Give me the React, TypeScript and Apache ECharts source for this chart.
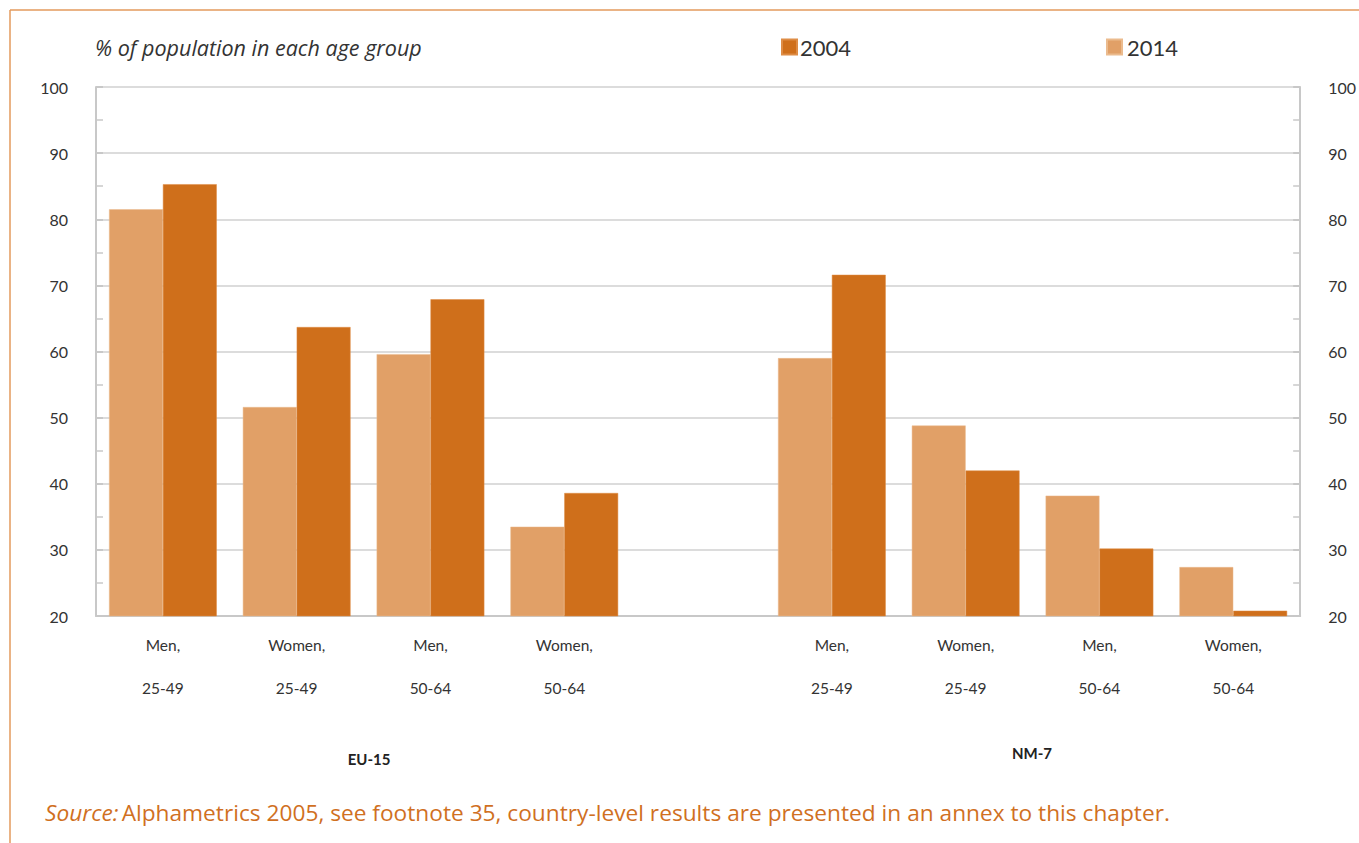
import React, { useEffect, useRef } from "react";
import * as echarts from "echarts";

const categories = [
  "Men,\n25-49",
  "Women,\n25-49",
  "Men,\n50-64",
  "Women,\n50-64",
  "",
  "Men,\n25-49",
  "Women,\n25-49",
  "Men,\n50-64",
  "Women,\n50-64",
];
const values2014: (number | null)[] = [81.5, 51.6, 59.6, 33.5, null, 59.0, 48.8, 38.2, 27.4];
const values2004: (number | null)[] = [85.3, 63.7, 67.9, 38.6, null, 71.6, 42.0, 30.2, 20.8];
const groupLabels = ["EU-15", "NM-7"];
const yTicks = { min: 20, max: 100, interval: 10 };

const DARK = "#CF6F1B";
const LIGHT = "#E1A067";
const FONT = "Lato, 'Open Sans', sans-serif";
const WIDE = "'Open Sans', Lato, sans-serif";

export default function App() {
  const ref = useRef<HTMLDivElement>(null);
  useEffect(() => {
    if (!ref.current) return;
    const chart = echarts.init(ref.current, null, { renderer: "svg" });
    const yAxisBase = {
      type: "value" as const,
      min: yTicks.min,
      max: yTicks.max,
      interval: yTicks.interval,
      axisLine: { show: true, lineStyle: { color: "#c8c8c8", width: 2 } },
      axisTick: { show: true, inside: true, length: 7, lineStyle: { color: "#c8c8c8", width: 2 } },
      minorTick: { show: true, splitNumber: 2, length: 7, lineStyle: { color: "#c8c8c8", width: 1.5 } },
      axisLabel: { color: "#333", fontSize: 16, fontFamily: FONT, margin: 28 },
    };
    chart.setOption({
      animation: false,
      backgroundColor: "#fff",
      textStyle: { fontFamily: FONT },
      grid: { left: 96, right: 55, top: 87, bottom: 227, containLabel: false },
      legend: [
        {
          data: ["2004"],
          left: 776,
          top: 31,
          icon: "rect",
          itemWidth: 15,
          itemHeight: 15,
          itemGap: 4,
          textStyle: { fontSize: 22, color: "#333", fontFamily: FONT, padding: [0, 0, 0, -2] },
        },
        {
          data: ["2014"],
          left: 1101,
          top: 31,
          icon: "rect",
          itemWidth: 15,
          itemHeight: 15,
          textStyle: { fontSize: 22, color: "#333", fontFamily: FONT },
        },
      ],
      xAxis: {
        type: "category",
        data: categories,
        axisLine: { show: true, lineStyle: { color: "#c8c8c8", width: 2 } },
        axisTick: { show: false },
        axisLabel: {
          interval: 0,
          color: "#333",
          fontSize: 15.5,
          lineHeight: 43,
          margin: 7,
          fontFamily: FONT,
        },
      },
      yAxis: [
        {
          ...yAxisBase,
          position: "left",
          splitLine: { show: true, lineStyle: { color: "#d0d0d0", width: 1.5 } },
        },
        {
          ...yAxisBase,
          position: "right",
          splitLine: { show: false },
        },
      ],
      series: [
        {
          name: "2014",
          type: "bar",
          data: values2014,
          barGap: "0%",
          barCategoryGap: "19.5%",
          itemStyle: { color: LIGHT, borderColor: "#EBBB8E", borderWidth: 0.5 },
        },
        {
          name: "2004",
          type: "bar",
          data: values2004,
          barGap: "0%",
          barCategoryGap: "19.5%",
          itemStyle: { color: DARK, borderColor: "#DE8C45", borderWidth: 0.5 },
        },
      ],
      graphic: [
        { type: "line", shape: { x1: 10, y1: 10, x2: 1359, y2: 10 }, style: { stroke: "#E39A5C", lineWidth: 1.5 } },
        { type: "line", shape: { x1: 10, y1: 10, x2: 10, y2: 843 }, style: { stroke: "#E39A5C", lineWidth: 1.5 } },
        {
          type: "text",
          x: 95,
          y: 47,
          style: {
            text: "% of population in each age group",
            fontSize: 21.5,
            fontStyle: "italic",
            fill: "#333",
            verticalAlign: "middle",
            fontFamily: WIDE,
          },
        },
        {
          type: "text",
          x: 369,
          y: 759,
          style: {
            text: groupLabels[0],
            fontSize: 15,
            fontWeight: "bold",
            fill: "#222",
            align: "center",
            verticalAlign: "middle",
            fontFamily: FONT,
          },
        },
        {
          type: "text",
          x: 1032,
          y: 753,
          style: {
            text: groupLabels[1],
            fontSize: 15,
            fontWeight: "bold",
            fill: "#222",
            align: "center",
            verticalAlign: "middle",
            fontFamily: FONT,
          },
        },
        {
          type: "text",
          x: 45,
          y: 812,
          style: {
            text: "{i|Source:} {n|Alphametrics 2005, see footnote 35, country-level results are presented in an annex to this chapter.}",
            verticalAlign: "middle",
            fontFamily: WIDE,
            rich: {
              i: { fontSize: 22.7, fontStyle: "italic", fill: "#D0701F", fontFamily: WIDE },
              n: { fontSize: 22.7, fill: "#D0701F", fontFamily: WIDE },
            },
          },
        },
      ],
    });
    return () => chart.dispose();
  }, []);
  return (
    <div
      ref={ref}
      style={{ position: "absolute", left: 0, top: 0, width: 1359, height: 843 }}
    />
  );
}
